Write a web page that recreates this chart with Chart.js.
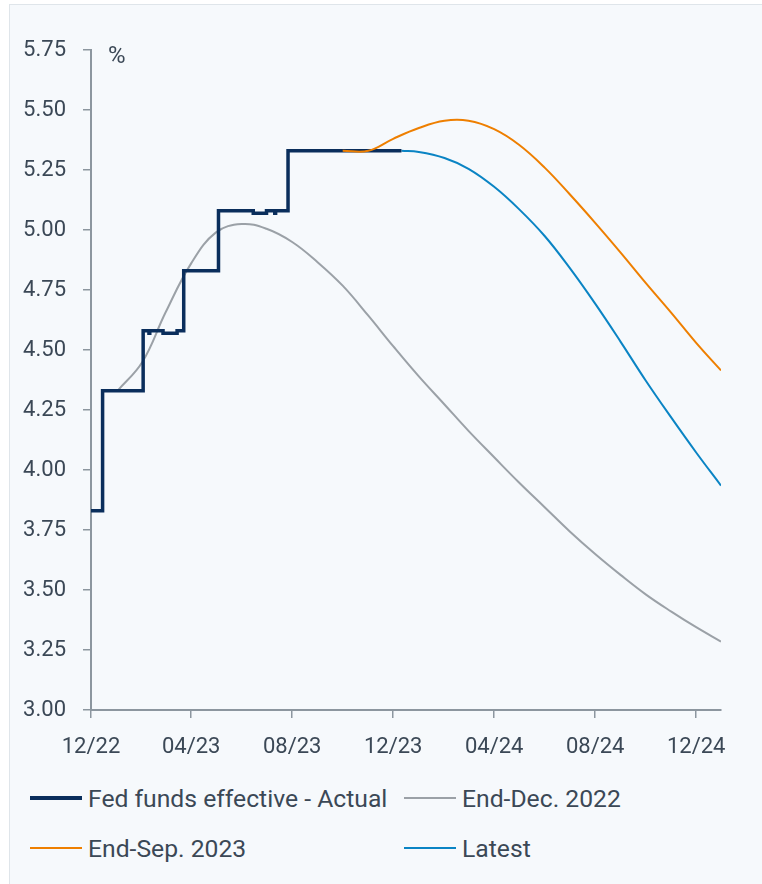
<!DOCTYPE html>
<html>
<head>
<meta charset="utf-8">
<script src="https://cdn.jsdelivr.net/npm/chart.js@4.4.1/dist/chart.umd.min.js"></script>
<style>
  body {
    margin: 0;
    background: #ffffff;
    font-family: Roboto, sans-serif;
  }
  .frame {
    position: absolute;
    left: 9px;
    top: 4px;
    width: 753px;
    height: 880px;
    background: #f6f9fc;
    border-left: 1px solid #dfe5ea;
    border-top: 1px solid #dfe5ea;
  }
  #chart {
    position: absolute;
    left: 0;
    top: 0;
  }
  .legend {
    position: absolute;
    left: 30px;
    top: 784px;
    display: grid;
    grid-template-columns: 374px auto;
    row-gap: 22px;
    color: #3b4856;
    font-size: 24.7px;
  }
  .legend-item {
    display: flex;
    align-items: center;
    height: 28px;
  }
  .swatch {
    width: 52px;
    margin-right: 6px;
  }
</style>
</head>
<body>
<div class="frame"></div>
<canvas id="chart" width="762" height="770"></canvas>
<div class="legend" id="legend"></div>

<script>
// x values are days since 1 Dec 2022

// ticks on the x axis
const tickDays = [0, 121, 243, 365, 487, 609, 731];
const tickLabels = ["12/22", "04/23", "08/23", "12/23", "04/24", "08/24", "12/24"];

// Fed funds effective - Actual (step changes)
const actualDays = [0, 14, 63, 70, 71, 87, 104, 112, 154, 196, 212, 222, 223, 238, 375];
const actualRates = [3.83, 4.33, 4.58, 4.57, 4.58, 4.57, 4.58, 4.83, 5.08, 5.07, 5.08, 5.07, 5.08, 5.33, 5.33];

// End-Dec. 2022
const decDays = [32, 62, 90, 121, 151, 182, 212, 243, 274, 304, 335, 365, 396, 427, 456, 487, 517, 548, 578, 609, 640, 670, 701, 731, 761];
const decRates = [4.33, 4.45, 4.656, 4.861, 4.99, 5.025, 5.005, 4.95, 4.865, 4.768, 4.643, 4.516, 4.39, 4.273, 4.163, 4.053, 3.948, 3.845, 3.745, 3.65, 3.562, 3.482, 3.41, 3.345, 3.285];

// End-Sep. 2023
const sepDays = [304, 335, 365, 396, 427, 456, 487, 517, 548, 578, 609, 640, 670, 701, 731, 761];
const sepRates = [5.33, 5.33, 5.38, 5.425, 5.455, 5.455, 5.42, 5.355, 5.26, 5.15, 5.03, 4.905, 4.78, 4.655, 4.53, 4.415];

// Latest
const latestDays = [375, 396, 427, 456, 487, 517, 548, 578, 609, 640, 670, 701, 731, 761];
const latestRates = [5.33, 5.325, 5.3, 5.255, 5.18, 5.087, 4.975, 4.843, 4.693, 4.533, 4.373, 4.218, 4.073, 3.935];

const textColor = "#3b4856";
const axisColor = "#8c969f";

const toPoints = (days, rates) => days.map((d, i) => ({ x: d, y: rates[i] }));

const series = [
  { label: "Fed funds effective - Actual", color: "#0a2e5c", width: 3.5, data: toPoints(actualDays, actualRates), stepped: true, order: 1 },
  { label: "End-Dec. 2022", color: "#9ba1a7", width: 2, data: toPoints(decDays, decRates), tension: 0.4, order: 3 },
  { label: "End-Sep. 2023", color: "#ee7f00", width: 2, data: toPoints(sepDays, sepRates), tension: 0.4, order: 0 },
  { label: "Latest", color: "#0a84c4", width: 2, data: toPoints(latestDays, latestRates), tension: 0.4, order: 2 },
];

// "%" unit next to the top of the y axis
const unitLabel = {
  id: "unitLabel",
  afterDraw(chart) {
    const ctx = chart.ctx;
    ctx.save();
    ctx.font = "24px Roboto";
    ctx.fillStyle = textColor;
    ctx.textBaseline = "middle";
    ctx.fillText("%", chart.chartArea.left + 17, chart.chartArea.top + 7);
    ctx.restore();
  },
};

new Chart(document.getElementById("chart"), {
  type: "line",
  data: {
    datasets: series.map((s) => ({
      label: s.label,
      data: s.data,
      borderColor: s.color,
      borderWidth: s.width,
      stepped: s.stepped || false,
      tension: s.tension || 0,
      order: s.order,
      pointRadius: 0,
      fill: false,
      borderJoinStyle: "miter",
    })),
  },
  options: {
    responsive: false,
    animation: false,
    layout: {
      padding: { top: 50, right: 41, bottom: 0, left: 0 },
    },
    plugins: {
      legend: { display: false },
      tooltip: { enabled: false },
    },
    scales: {
      x: {
        type: "linear",
        min: 0,
        max: 761,
        afterBuildTicks: (scale) => {
          scale.ticks = tickDays.map((d) => ({ value: d }));
        },
        afterFit: (scale) => {
          scale.height = 60;
        },
        grid: {
          drawOnChartArea: false,
          drawTicks: true,
          tickLength: 8,
          color: axisColor,
          lineWidth: 1.5,
        },
        border: { display: true, color: axisColor, width: 2 },
        ticks: {
          color: textColor,
          font: { size: 22, family: "Roboto" },
          padding: 16,
          maxRotation: 0,
          autoSkip: false,
          callback: (v) => tickLabels[tickDays.indexOf(v)],
        },
      },
      y: {
        min: 3,
        max: 5.75,
        afterFit: (scale) => {
          scale.width = 91;
        },
        grid: {
          drawOnChartArea: false,
          drawTicks: true,
          tickLength: 8,
          color: axisColor,
          lineWidth: 1.5,
        },
        border: { display: true, color: axisColor, width: 2 },
        ticks: {
          stepSize: 0.25,
          color: textColor,
          font: { size: 22, family: "Roboto" },
          padding: 17,
          callback: (v) => v.toFixed(2),
        },
      },
    },
  },
  plugins: [unitLabel],
});

// legend in two columns below the chart
const legend = document.getElementById("legend");
series.forEach((s) => {
  const item = document.createElement("div");
  item.className = "legend-item";
  item.innerHTML =
    '<span class="swatch" style="height:' + (s.width === 2 ? 2 : 4) + "px;background:" + s.color + '"></span>' +
    "<span>" + s.label + "</span>";
  legend.appendChild(item);
});
</script>
</body>
</html>
